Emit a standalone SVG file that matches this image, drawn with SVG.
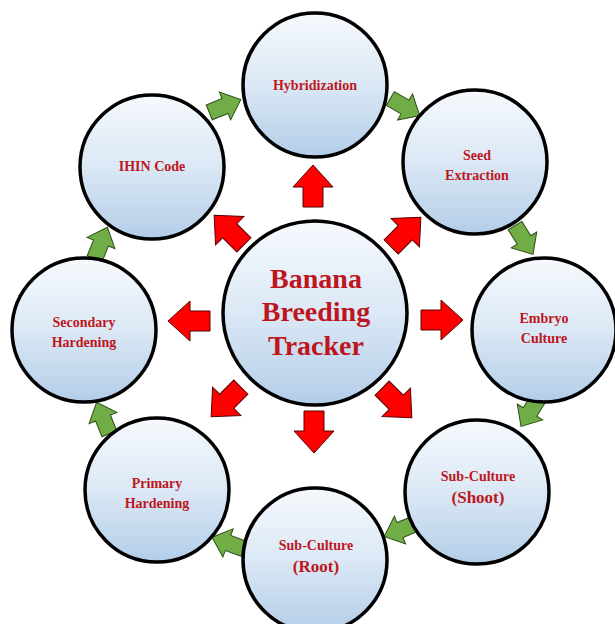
<svg xmlns="http://www.w3.org/2000/svg" width="615" height="624" viewBox="0 0 615 624">
<style>
.node circle{fill:url(#g);stroke:#000;stroke-width:3.5}
.t{font-family:"Liberation Serif","Times New Roman",serif;font-weight:bold;fill:#BE1620;text-anchor:middle;font-size:14px}
.big{font-size:17px}
.ctr{font-size:28px}
.red{fill:#FF0000;stroke:#5a0000;stroke-width:1}
.grn{fill:#70AD47;stroke:#2e4d18;stroke-width:1}
</style>
<defs>
<linearGradient id="g" x1="0" y1="0" x2="0" y2="1">
<stop offset="0" stop-color="#f6f9fd"/>
<stop offset="0.5" stop-color="#dbe8f5"/>
<stop offset="1" stop-color="#b3cde8"/>
</linearGradient>
<path id="ra" d="M-21,-10 L-1,-10 L-1,-20 L21,0 L-1,20 L-1,10 L-21,10 Z"/>
<path id="ga" d="M-17,-8 L0,-8 L0,-15 L17,0 L0,15 L0,8 L-17,8 Z"/>
</defs>
<rect width="615" height="624" fill="#fff"/>
<g id="connectors">
<use href="#ra" class="red" transform="translate(313,186) rotate(-90)"/>
<use href="#ra" class="red" transform="translate(406,232) rotate(-45)"/>
<use href="#ra" class="red" transform="translate(442,320)"/>
<use href="#ra" class="red" transform="translate(397,403) rotate(45)"/>
<use href="#ra" class="red" transform="translate(314,432) rotate(90)"/>
<use href="#ra" class="red" transform="translate(226,402) rotate(135)"/>
<use href="#ra" class="red" transform="translate(189,321) rotate(180)"/>
<use href="#ra" class="red" transform="translate(229,230) rotate(-135)"/>
<use href="#ga" class="grn" transform="translate(225,106) rotate(-22)"/>
<use href="#ga" class="grn" transform="translate(405,107) rotate(30)"/>
<use href="#ga" class="grn" transform="translate(524,240) rotate(58)"/>
<use href="#ga" class="grn" transform="translate(530,412) rotate(122)"/>
<use href="#ga" class="grn" transform="translate(400,530) rotate(158)"/>
<use href="#ga" class="grn" transform="translate(228,543) rotate(200)"/>
<use href="#ga" class="grn" transform="translate(103,418) rotate(-112)"/>
<use href="#ga" class="grn" transform="translate(101,243) rotate(-68)"/>
</g>
<g id="center" class="node"><circle cx="315" cy="313" r="92"/>
<text class="t ctr" x="316" y="288">Banana</text>
<text class="t ctr" x="316" y="321">Breeding</text>
<text class="t ctr" x="316" y="355">Tracker</text></g>
<g id="hybridization" class="node"><circle cx="315" cy="85" r="72"/>
<text class="t" x="315" y="90">Hybridization</text></g>
<g id="seed" class="node"><circle cx="475" cy="162" r="72"/>
<text class="t" x="477" y="160">Seed</text><text class="t" x="477" y="180">Extraction</text></g>
<g id="embryo" class="node"><circle cx="544" cy="330" r="72"/>
<text class="t" x="544" y="323">Embryo</text><text class="t" x="544" y="343">Culture</text></g>
<g id="shoot" class="node"><circle cx="477" cy="492" r="72"/>
<text class="t" x="478" y="481">Sub-Culture</text><text class="t big" x="478" y="503">(Shoot)</text></g>
<g id="root" class="node"><circle cx="315" cy="560" r="72"/>
<text class="t" x="316" y="550">Sub-Culture</text><text class="t big" x="316" y="572">(Root)</text></g>
<g id="primary" class="node"><circle cx="157" cy="490" r="72"/>
<text class="t" x="157" y="488">Primary</text><text class="t" x="157" y="508">Hardening</text></g>
<g id="secondary" class="node"><circle cx="84" cy="330" r="72"/>
<text class="t" x="84" y="327">Secondary</text><text class="t" x="84" y="347">Hardening</text></g>
<g id="ihin" class="node"><circle cx="152" cy="167" r="72"/>
<text class="t" x="152" y="171">IHIN Code</text></g>
</svg>
